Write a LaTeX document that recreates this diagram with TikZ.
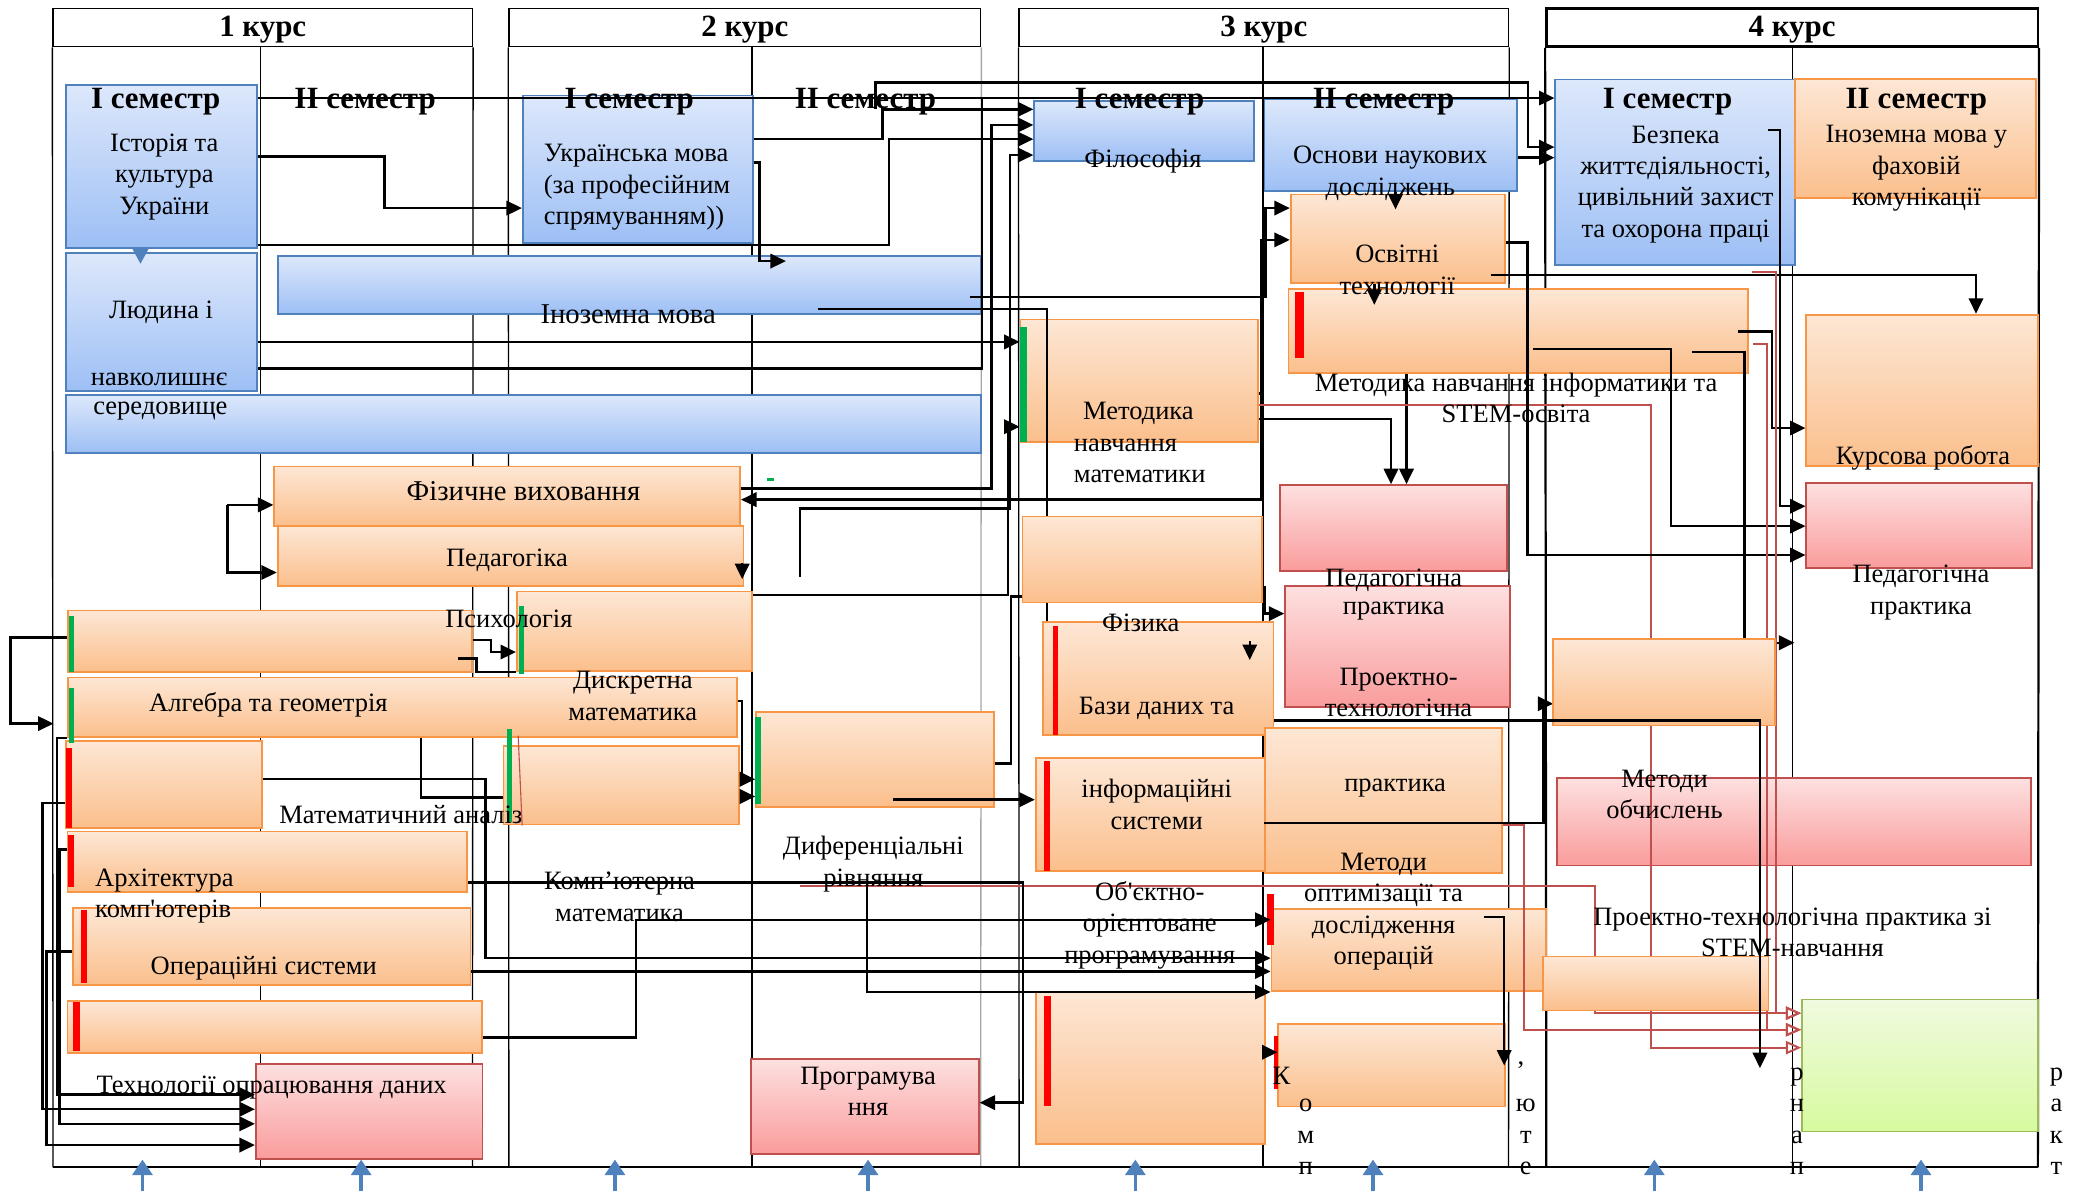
\documentclass[tikz,border=0pt]{standalone}
\usepackage{fontspec}
\setmainfont{Liberation Serif}[Ligatures=TeXOff]
\usetikzlibrary{arrows.meta,fit}
\definecolor{bluetop}{HTML}{DDE8FB}
\definecolor{bluebot}{HTML}{9DBFF5}
\definecolor{blueline}{HTML}{4F81BD}
\definecolor{ortop}{HTML}{FDE7D5}
\definecolor{orbot}{HTML}{FBBF8C}
\definecolor{orline}{HTML}{F79646}
\definecolor{pktop}{HTML}{FDE0E0}
\definecolor{pkbot}{HTML}{FA9C9C}
\definecolor{pkline}{HTML}{C0504D}
\definecolor{grtop}{HTML}{F0FADF}
\definecolor{grbot}{HTML}{D7FA9F}
\definecolor{grline}{HTML}{9BBB59}
\definecolor{barg}{HTML}{00B050}
\definecolor{barr}{HTML}{FF0000}
\definecolor{redln}{HTML}{C0504D}
\begin{document}
\begin{tikzpicture}[x=0.6pt,y=-0.6pt,
  hdr/.style={draw, line width=0.6pt, inner sep=0pt},
  colline/.style={line width=0.6pt},
  blk/.style={draw=blueline, line width=0.8pt, top color=bluetop, bottom color=bluebot, inner sep=0pt},
  ork/.style={draw=orline, line width=0.8pt, top color=ortop, bottom color=orbot, inner sep=0pt},
  pkk/.style={draw=pkline, line width=0.8pt, top color=pktop, bottom color=pkbot, inner sep=0pt},
  grk/.style={draw=grline, line width=0.8pt, top color=grtop, bottom color=grbot, inner sep=0pt},
  conn/.style={line width=1.1pt, -{Triangle[length=7pt,width=6.5pt]}},
  link/.style={line width=1.1pt},
  rconn/.style={draw=redln, line width=0.9pt, -{Triangle[open,length=7pt,width=6pt]}},
  upar/.style={draw=blueline, line width=1.6pt, -{Triangle[length=7pt,width=9pt]}},
  txt/.style={font=\fontsize{12}{14.2}\selectfont, align=center, inner sep=0pt},
  txtb/.style={font=\fontsize{13}{15}\selectfont, align=center, inner sep=0pt},
  sem/.style={font=\bfseries\fontsize{14}{16}\selectfont, inner sep=0pt}]
\useasboundingbox (0,0) rectangle (1568,899);

% course headers and columns
\node[hdr, fit={(40,6.4) (356.5,35.2)}] (k1) {};
\node[hdr, fit={(384,6.4) (740,35.2)}] (k2) {};
\node[hdr, fit={(769,6.4) (1138.3,35.2)}] (k3) {};
\node[hdr, line width=1.1pt, fit={(1166.8,6.4) (1537.7,35.2)}] (k4) {};
\node[sem] (tk1) at ([yshift=-1pt]k1.center) {1 курс};
\node[sem] (tk2) at ([yshift=-1pt]k2.center) {2 курс};
\node[sem] (tk3) at ([yshift=-1pt]k3.center) {3 курс};
\node[sem] (tk4) at ([yshift=-1pt]k4.center) {4 курс};
\draw[colline] (k1.south west) -- (40,880.8);
\draw[colline] (196.5,35.2) -- (196.5,880.8);
\draw[colline] (k1.south east) -- (356.5,880.8);
\draw[colline] (k2.south west) -- (384,880.8);
\draw[colline] (567.5,35.2) -- (567.5,880.8);
\draw[colline, gray!70] (k2.south east) -- (740,880.8);
\draw[colline] (k3.south west) -- (769,880.8);
\draw[colline] (953,35.2) -- (953,880.8);
\draw[colline] (k3.south east) -- (1138.3,880.8);
\draw[line width=1pt] (k4.south west) -- (1166.8,880.8);
\draw[colline] (1352.5,35.2) -- (1352.5,880.8);
\draw[line width=1pt] (k4.south east) -- (1537.7,880.8);
\draw[line width=1pt] (40,880.8) -- (1537.7,880.8);

% 1-2 курс
\node[blk, fit={(50,64) (194,187)}] (ist) {};
\node[blk, fit={(50,191) (194,295)}] (ljud) {};
\node[blk, fit={(50,298) (740,341.6)}] (ser) {};
\node[blk, fit={(209.5,193) (740,237)}] (ino) {};
\node[blk, fit={(394.5,72) (568,183.6)}] (ukr) {};
\node[ork, fit={(207,352) (558.5,397)}] (fiz) {};
\node[ork, fit={(209.5,397) (561,442)}] (ped) {};
\node[ork, fit={(51.5,460.6) (356,506.8)}] (psyl) {};
\node[ork, fit={(390,446.4) (567.5,506.2)}] (psyr) {};
\node[ork, fit={(51.5,511.2) (556,556.3)}] (alg) {};
\node[ork, fit={(50,558.9) (197.5,624.6)}] (man) {};
\node[ork, fit={(380,562.7) (557.5,622.2)}] (dis) {};
\node[ork, fit={(570.5,537) (750,608.7)}] (dif) {};
\node[ork, fit={(51,627.5) (352.5,673)}] (arh) {};
\node[ork, fit={(55,685) (355,743)}] (ops) {};
\node[ork, fit={(51,755.6) (363.5,794.5)}] (tod) {};
\node[pkk, fit={(193,802.7) (364,874.3)}] (tdp) {};
\node[pkk, fit={(566.5,799) (738.5,870.5)}] (prg) {};
% 3 курс
\node[blk, fit={(780.4,76) (946.4,121.3)}] (fil) {};
\node[blk, fit={(954.2,74.5) (1144.5,144.4)}] (osn) {};
\node[ork, fit={(973.9,146.7) (1135.7,213.7)}] (osv) {};
\node[ork, fit={(972.3,218) (1318.8,281.5)}] (mni) {};
\node[ork, fit={(770,241) (949.5,333.5)}] (mnm) {};
\node[pkk, fit={(966,366) (1137.3,430.8)}] (pp3) {};
\node[pkk, fit={(969.7,442) (1139.3,533.3)}] (ptp) {};
\node[ork, fit={(771.6,389.8) (952,454.7)}] (fzk) {};
\node[ork, fit={(787.2,469.4) (961,554.5)}] (bd) {};
\node[ork, fit={(781.5,572.2) (954.7,657)}] (is) {};
\node[ork, fit={(954.7,549.5) (1133.6,659)}] (prk) {};
\node[ork, fit={(959.4,685.8) (1166.8,747.7)}] (mop) {};
\node[ork, fit={(781.5,748.9) (954.7,863)}] (oop) {};
\node[ork, fit={(964.6,772.4) (1135.7,835)}] (kmp) {};
% 4 курс
\node[blk, fit={(1173.6,60) (1354.6,200)}] (bzp) {};
\node[ork, fit={(1354.6,59.8) (1536.5,149.6)}] (ifk) {};
\node[ork, fit={(1363,237.4) (1537.7,351.4)}] (krs) {};
\node[pkk, fit={(1363,364.4) (1533.5,428.8)}] (pp4) {};
\node[pkk, fit={(1174.6,587.2) (1532.5,653.1)}] (mob) {};
\node[grk, fit={(1359.8,754.2) (1537.7,853.7)}] (grn) {};

% bars
\fill[barg] (52,464.7) rectangle (56,507.4);
\fill[barg] (391.5,457.6) rectangle (395.5,508.3);
\fill[barg] (52,519.5) rectangle (56,560.7);
\fill[barg] (382.5,550) rectangle (386,620);
\draw[redln, line width=0.5pt] (391,555) -- (394,623);
\fill[barg] (570,541) rectangle (574,607);
\fill[barg] (770,247) rectangle (775,333.5);
\fill[barg] (579,360.5) rectangle (584,363);
\fill[barr] (50,564.2) rectangle (54,624.6);
\fill[barr] (51.5,630) rectangle (56,669);
\fill[barr] (61,686.4) rectangle (65.5,741.5);
\fill[barr] (55,756) rectangle (60,793);
\fill[barr] (977.5,220) rectangle (983.8,270);
\fill[barr] (794.4,472.3) rectangle (798.6,554.5);
\fill[barr] (788,574.5) rectangle (792.4,657);
\fill[barr] (955.7,674.6) rectangle (961,713);
\fill[barr] (788,751.2) rectangle (793,834.6);
\fill[barr] (961,782) rectangle (964.6,822);
\fill[blueline] (100,188) -- (112,188) -- (106,199) -- cycle;

% free ends
\coordinate (uk1) at (660.6,82.5);
\coordinate (fr1) at (603.6,435.5);
\coordinate (in1) at (617,233);
\coordinate (in2) at (732,224);
\coordinate (mn1) at (952,297);
\coordinate (br1) at (171.5,381);
\coordinate (pg1) at (560,425);
\coordinate (ps1) at (345.7,497);
\coordinate (ar1) at (604,666);
\coordinate (ar2) at (654,666);
\coordinate (df1) at (673.5,603.4);
\coordinate (mo1) at (1120,692);
\coordinate (moend) at (1135,804);
\coordinate (bd1) at (943,484);
\coordinate (os1) at (1125,207.5);
\coordinate (mi1) at (1157,263.5);
\coordinate (mi2) at (1277,265.5);
\coordinate (mi3) at (1311.5,250);
\coordinate (mi4) at (1323,259.3);
\coordinate (bz1) at (1334,98);
\coordinate (bz2) at (1322,205);
\coordinate (fre) at (1354,485);
\coordinate (bdend) at (1328,806);

% connectors
\draw[conn] (ist.east |- 0,74) -- (bzp.west |- 0,74);
\draw[link] (ljud.east |- 0,278) -| (741,74);
\draw[conn] (ljud.east |- 0,258) -- (mnm.west |- 0,258);
\draw[conn] (ist.east |- 0,118) -| (290,157) -- (ukr.west |- 0,157);
\draw[conn] (ist.east |- 0,185) -| (671,105) -- (fil.west |- 0,105);
\draw[conn] (ukr.east |- 0,105) -| (666,82.5) -- (fil.west |- 0,82.5);
\draw[conn] (uk1) |- (1153,62.4) |- (bzp.west |- 0,111);
\draw[conn] (osn.east |- 0,119) -- (bzp.west |- 0,119);
\draw[conn] (fiz.east |- 0,368.5) -| (748,94.3) -- (fil.west |- 0,94.3);
\draw[conn] (fr1) |- (762,383.6) |- (fil.west |- 0,117);
\draw[conn] (ukr.east |- 0,122.5) -| (573,197) -- (593,197);
\draw[link] (in1) -| (fzk.north -| 790,0);
\draw[link] (fzk.south -| 790,0) -- (bd.north -| 790,0);
\draw[conn] (in2) -| (955,157) -- (osv.west |- 0,157);
\draw[conn] (mnm.east |- 0,297) -| (952,181) -- (osv.west |- 0,181);
\draw[conn] (mn1) |- (fiz.east |- 0,377);
\draw[conn] (psyr.east |- 0,449) -| (760.6,322) -- (mnm.west |- 0,322);
\draw[conn] (br1) -- (fiz.west |- 0,381);
\draw[conn] (br1) |- (ped.west |- 0,432);
\draw[conn] (pg1) -- (560,437);
\draw[conn] (psyl.west |- 0,481) -| (8,546) -- (40.4,546);
\draw[conn] (psyl.east |- 0,483) -| (370.5,492) -- (psyr.west |- 0,492);
\draw[link] (ps1) -| (359.7,507) -- (psyr.west |- 0,507);
\draw[link] (alg.south -| 317.5,0) |- (dis.west |- 0,601.6);
\draw[conn] (alg.east |- 0,529) -| (560,588) -- (dif.west |- 0,588);
\draw[conn] (dis.east |- 0,601) -- (dif.west |- 0,601);
\draw[conn] (man.east |- 0,588) -| (366.5,723) -- (mop.west |- 0,723);
\draw[conn] (ops.east |- 0,733) -- (mop.west |- 0,733);
\draw[conn] (tod.east |- 0,783) -| (480,694) -- (mop.west |- 0,694);
\draw[conn] (alg.south west) -| (43,826) -- (tdp.west |- 0,826);
\draw[conn] (man.west |- 0,606) -| (32,837) -- (tdp.west |- 0,837);
\draw[conn] (arh.west |- 0,641) -| (45,848) -- (tdp.west |- 0,848);
\draw[conn] (ops.west |- 0,718) -| (35,864) -- (tdp.west |- 0,864);
\draw[rconn] (ar1) ++(0,2.5) -| (1203.5,764.5) -- (grn.west |- 0,764.5);
\draw[link] (arh.east |- 0,666) -- (ar1);
\draw[conn] (ar1) -| (772,832) -- (prg.east |- 0,832);
\draw[conn] (ar2) |- (mop.west |- 0,748.5);
\draw[link] (dif.east |- 0,576) -| (763,450) -- (fzk.west |- 0,450);
\draw[conn] (df1) -- (is.west |- 0,603.4);
\draw[conn] (prk.west |- 0,621) -| (1164.5,531) -- (1172,531);
\draw[rconn] (prk.east |- 0,622.7) -| (1150,777) -- (grn.west |- 0,777);
\draw[conn] (mo1) -| (moend);
\draw[conn] (fzk.east |- 0,443) -| (954,463) -- (ptp.west |- 0,463);
\draw[conn] (bd1) -- (943,498);
\draw[conn] (oop.east |- 0,794) -- (kmp.west |- 0,794);
\draw[conn] (mnm.east |- 0,316) -| (pp3.north -| 1049.6,0);
\draw[conn] (mni.south -| 1061.3,0) -- (pp3.north -| 1061.3,0);
\draw[rconn] (mnm.east |- 0,305.6) -| (1245.5,790.5) -- (grn.west |- 0,790.5);
\draw[conn] (osn.south -| 1053,0) -- (1053,158);
\draw[conn] (osv.south -| 1037,0) -- (1037,230);
\draw[conn] (osv.east |- 0,183) -| (1152.6,418.8) -- (pp4.west |- 0,418.8);
\draw[conn] (os1) -| (krs.north -| 1491,0);
\draw[conn] (mi3) -| (1337,323) -- (krs.west |- 0,323);
\draw[conn] (mi1) -| (1261,397) -- (pp4.west |- 0,397);
\draw[conn] (mi2) -| (1316.3,485) -- (fre);
\draw[conn] (bz1) -| (1343,382) -- (pp4.west |- 0,382);
\draw[rconn] (bz2) -| (1340,764.5) -- (grn.west |- 0,764.5);
\draw[rconn] (mi4) -| (1333,777) -- (grn.west |- 0,777);

% boxes over the lines
\node[ork, fit={(1172,482.4) (1339.6,547.5)}] (b40) {};
\node[ork, fit={(1164.3,721.8) (1334.4,762.4)}] (b43) {};
\draw[conn] (bd.east |- 0,543.6) -| (bdend);

% bottom arrows
\draw[upar] (107.5,899) -- (107.5,875);
\draw[upar] (272.5,899) -- (272.5,875);
\draw[upar] (464,899) -- (464,875);
\draw[upar] (655,899) -- (655,875);
\draw[upar] (856.7,899) -- (856.7,875);
\draw[upar] (1036,899) -- (1036,875);
\draw[upar] (1248.3,899) -- (1248.3,875);
\draw[upar] (1449.5,899) -- (1449.5,875);

% texts
\node[sem] (s11) at (117.5,76.5) {I семестр};
\node[sem] (s12) at (275.5,76.5) {II семестр};
\node[sem] (s21) at (474.8,76.5) {I семестр};
\node[sem] (s22) at (653,76.5) {II семестр};
\node[sem] (s31) at (859.9,76.5) {I семестр};
\node[sem] (s32) at (1044,76.5) {II семестр};
\node[sem] (s41) at (1258.3,76.5) {I семестр};
\node[sem] (s42) at (1446,76.5) {II семестр};
\node[txt] (tIst) at (124,133.5) {Історія та\\культура\\України};
\node[txt] (tLj1) at (121.5,235.3) {Людина і};
\node[txt] (tLj2) at (120,285.9) {навколишнє};
\node[txt] (tLj3) at (121,310.4) {середовище};
\node[txtb] (tIno) at (474,236.8) {Іноземна мова};
\node[txt, align=left, anchor=west] (tUkr) at (410,141.3) {Українська мова\\(за професійним\\спрямуванням))};
\node[txtb] (tFiz) at (395,370.5) {Фізичне виховання};
\node[txt] (tPed) at (382.5,423) {Педагогіка};
\node[txt] (tPsy) at (384,467) {Психологія};
\node[txt] (tAlg) at (202.5,531.8) {Алгебра та геометрія};
\node[txt] (tDis) at (477.5,525) {Дискретна\\математика};
\node[txt] (tMan) at (302.5,614.3) {Математичний аналіз};
\node[txt, align=left, anchor=west] (tArh) at (71.5,676) {Архітектура\\комп'ютерів};
\node[txt] (tKm) at (467.5,676.7) {Комп’ютерна\\математика};
\node[txt] (tOps) at (199,730.6) {Операційні системи};
\node[txt] (tTod) at (205,820.4) {Технології опрацювання даних};
\node[txt] (tDif) at (659,652) {Диференціальні\\рівняння};
\node[txt] (tPrg) at (655,823.3) {Програмува\\ння};
\node[txt] (tFil) at (862.4,121.3) {Філософія};
\node[txt] (tOsn) at (1049,130.7) {Основи наукових\\досліджень};
\node[txt] (tBzp) at (1264.4,139) {Безпека\\життєдіяльності,\\цивільний захист\\та охорона праці};
\node[txt] (tIfk) at (1446,127) {Іноземна мова у\\фаховій\\комунікації};
\node[txt] (tOsv) at (1054.3,203.5) {Освітні\\технології};
\node[txt] (tMni) at (1144,300.3) {Методика навчання інформатики та\\STEM-освіта};
\node[txt] (tMn1) at (859,312) {Методика};
\node[txt, anchor=west] (tMn2) at (810,336.4) {навчання};
\node[txt, anchor=west] (tMn3) at (810,359.5) {математики};
\node[txt] (tKrs) at (1451,345.6) {Курсова робота};
\node[txt] (tPp3) at (1051.7,437.5) {Педагогічна};
\node[txt] (tPp3b) at (1051.7,461.2) {практика};
\node[txt] (tPtp) at (1055.3,522.7) {Проектно-\\технологічна};
\node[txt] (tPp4) at (1449.5,447) {Педагогічна\\практика};
\node[txt] (tFzk) at (860.8,470) {Фізика};
\node[txt] (tBd) at (872.8,534.8) {Бази даних та};
\node[txt] (tIs) at (872.8,607) {інформаційні\\системи};
\node[txt] (tPrk) at (1052.7,595) {практика};
\node[txt] (tMop) at (1044,688) {Методи\\оптимізації та\\дослідження\\операцій};
\node[txt] (tOop) at (867.6,698.2) {Об'єктно-\\орієнтоване\\програмування};
\node[txt] (tMob) at (1256,599.5) {Методи\\обчислень};
\node[txt] (tStem) at (1352.5,703.7) {Проектно-технологічна практика зі\\STEM-навчання};
\node[txt] (tK) at (967,811.6) {К};
\node[txt] (tKv) at (985.3,858) {о\\м\\п};
\node[txt] (tCm) at (1147.6,804) {,};
\node[txt] (tYu) at (1151.3,858) {ю\\т\\е};
\node[txt] (tRn) at (1356,846) {р\\н\\а\\п};
\node[txt] (tRk) at (1551.7,846) {р\\а\\к\\т};
\end{tikzpicture}
\end{document}
